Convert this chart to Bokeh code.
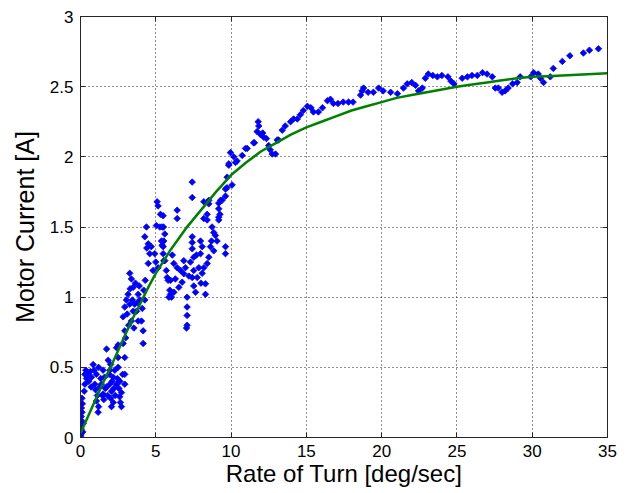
from bokeh.plotting import figure
from bokeh.models import LinearAxis, FixedTicker, CustomJSTickFormatter
from bokeh.embed import file_html
from bokeh.resources import INLINE

# Measured data: rate of turn [deg/sec] vs motor current [A]
rate = [
    0.0, 0.0, 0.05, 0.02, 0.08, 0.05, 0.1, 0.06, 0.12, 0.15, 0.1, 0.18, 0.0, 0.03,
    0.25, 0.29, 0.29, 0.35, 0.4, 0.5, 0.55, 0.65, 0.73, 0.84, 0.9, 0.95, 1.0, 1.06, 1.06,
    1.12, 1.17, 1.2, 1.28, 1.35, 1.39, 1.45, 1.5, 1.55, 1.6, 1.65, 1.73, 1.73, 1.8, 1.84,
    1.9, 1.95, 1.95, 2.0, 2.06, 2.06, 2.1, 2.17, 2.17, 2.22, 2.28, 2.3, 2.39, 2.39, 2.45,
    2.5, 2.5, 2.5, 2.55, 2.6, 2.62, 2.65, 2.72, 2.72, 2.8, 2.94, 2.94, 2.94, 2.0, 1.5,
    0.7, 1.2,
    2.83, 2.83, 2.94, 2.94, 3.0, 3.05, 3.1, 3.16, 3.2, 3.27, 3.27, 3.3, 3.38, 3.38, 3.45,
    3.5, 3.5, 3.6, 3.65, 3.72, 3.8, 3.83, 3.83, 3.9, 3.94, 4.05, 4.1, 4.16, 4.16, 4.2,
    4.27, 4.3, 4.38, 4.27, 4.4, 3.55,
    4.5, 4.5, 4.6, 4.7, 4.82, 4.93, 5.04, 5.09, 5.15, 5.15, 5.27, 5.31, 5.38, 5.42, 5.42,
    5.49, 5.49, 5.49, 5.51, 5.53, 5.53, 5.6, 5.7, 5.76, 5.82, 5.87, 5.93, 5.98, 5.98, 6.04,
    6.2, 6.2, 6.3, 6.42, 6.42, 6.42, 6.53, 6.64, 6.75, 6.86, 6.86, 6.97, 5.0, 5.6, 6.1,
    7.04, 7.08, 7.08, 7.08, 7.08, 7.42, 7.42, 7.42, 7.42, 7.42, 7.42, 7.52, 7.52, 7.52,
    7.64, 7.75, 7.86, 7.97, 7.97, 8.08, 8.08, 8.19, 8.19, 8.19, 8.3, 8.3, 8.41, 8.41, 8.41,
    8.52, 8.52, 8.52, 8.63, 8.74, 8.85, 8.85, 8.96, 9.07, 9.18, 9.18, 9.18, 9.18, 9.26,
    9.3, 9.4, 9.63, 9.63, 9.63, 9.63, 7.3, 7.7, 8.0, 8.7, 7.2,
    9.74, 9.74, 9.85, 9.85, 9.96, 10.07, 10.18, 10.29, 10.4, 10.74, 10.96, 11.07, 11.5,
    11.55, 11.73, 11.8, 11.84, 11.95, 12.1, 12.17, 12.35, 12.5, 12.6, 12.73, 12.95, 13.06,
    13.15,
    13.4, 13.6, 13.95, 14.15, 14.4, 14.6, 14.8, 15.07, 15.3, 15.47, 15.8, 16.07, 16.4,
    16.6, 16.8, 17.1, 17.45, 17.8, 18.1, 18.6, 18.7, 18.8, 19.1, 19.45, 19.8, 20.1, 20.6,
    21.05, 21.45, 21.7, 22.0, 22.25, 22.45, 22.7, 22.9, 23.1, 23.4, 23.7, 24.0, 24.4,
    24.6, 24.8, 25.35, 25.7, 26.0, 26.35, 26.7, 27.0, 27.35, 27.55, 27.75, 28.0, 28.2,
    28.4, 28.7, 29.0, 29.2, 29.9, 30.1, 30.4, 30.55, 30.75, 31.2, 31.4, 32.0, 32.5, 33.4,
    33.8, 34.4,
]
current = [
    0.0, 0.03, 0.06, 0.09, 0.12, 0.15, 0.18, 0.21, 0.24, 0.04, 0.28, 0.1, 0.01, 0.02,
    0.33, 0.38, 0.45, 0.48, 0.42, 0.45, 0.40, 0.47, 0.43, 0.52, 0.48, 0.38, 0.34, 0.45, 0.26,
    0.30, 0.18, 0.22, 0.36, 0.42, 0.38, 0.30, 0.31, 0.27, 0.43, 0.35, 0.36, 0.63, 0.30, 0.55,
    0.45, 0.48, 0.38, 0.28, 0.33, 0.22, 0.40, 0.43, 0.25, 0.35, 0.48, 0.30, 0.38, 0.64, 0.42,
    0.50, 0.57, 0.66, 0.35, 0.29, 0.40, 0.25, 0.22, 0.32, 0.45, 0.38, 0.45, 0.57, 0.52, 0.48,
    0.36, 0.50,
    0.86, 0.67, 0.93, 0.76, 0.71, 0.98, 0.88, 1.02, 0.80, 1.17, 0.95, 1.06, 1.13, 0.83, 0.98,
    1.07, 0.90, 0.95, 1.10, 0.90, 0.96, 0.83, 1.02, 1.08, 0.98, 0.83, 0.92, 0.76, 0.67, 1.05,
    0.98, 1.12, 1.50, 1.43, 1.35, 0.78,
    1.38, 1.24, 1.31, 1.36, 1.19, 1.31, 1.51, 1.68, 1.65, 1.21, 1.50, 1.59, 1.40, 1.37, 1.50,
    1.31, 1.58, 1.36, 1.50, 1.26, 1.40, 1.26, 1.19, 1.14, 1.12, 1.00, 1.05, 1.02, 1.12, 1.00,
    1.24, 1.035, 1.13, 1.21, 1.62, 1.56, 1.07, 1.19, 1.107, 1.167, 1.26, 1.21, 1.25, 1.45, 1.30,
    0.78, 0.80, 0.87, 0.93, 1.00, 1.82, 1.71, 1.43, 1.39, 1.345, 1.14, 1.285, 1.19, 1.08,
    1.035, 1.14, 1.21, 1.40, 1.31, 1.36, 1.17, 1.68, 1.56, 1.21, 1.095, 1.02, 1.59, 1.55, 1.24,
    1.69, 1.665, 1.285, 1.36, 1.50, 1.46, 1.33, 1.44, 1.40, 1.67, 1.63, 1.57, 1.55, 1.59,
    1.69, 1.69, 1.36, 1.31, 1.72, 1.77, 1.25, 1.30, 1.10, 1.40, 1.15,
    1.78, 1.855, 1.94, 1.95, 2.03, 1.80, 2.00, 1.96, 1.97, 2.01, 2.06, 2.06, 2.10,
    2.10, 2.18, 2.25, 2.22, 2.16, 2.17, 2.14, 2.13, 2.08, 2.05, 2.02, 2.02, 2.12,
    2.12,
    2.19, 2.22, 2.25, 2.27, 2.27, 2.30, 2.33, 2.36, 2.35, 2.32, 2.32, 2.35, 2.40,
    2.41, 2.38, 2.38, 2.39, 2.39, 2.39, 2.44, 2.47, 2.49, 2.46, 2.46, 2.49, 2.47, 2.46,
    2.45, 2.49, 2.52, 2.53, 2.51, 2.47, 2.49, 2.56, 2.59, 2.58, 2.57, 2.58, 2.57,
    2.54, 2.52, 2.56, 2.57, 2.58, 2.58, 2.60, 2.59, 2.57, 2.49, 2.49, 2.46, 2.47,
    2.49, 2.52, 2.53, 2.57, 2.57, 2.60, 2.59, 2.56, 2.53, 2.57, 2.63, 2.68, 2.72, 2.74,
    2.76, 2.77,
]

# Fitted curve
fit_rate = [0, 0.5, 1, 1.5, 2, 2.5, 3, 3.5, 4, 4.5, 5, 6, 7, 8, 9, 10, 11, 12, 13, 14, 15,
            16, 17, 18, 19, 20, 21, 22, 23, 24, 25, 26, 27, 28, 29, 30, 31, 32, 33, 34, 35]
fit_current = [0.03, 0.15, 0.27, 0.39, 0.50, 0.62, 0.74, 0.855, 0.96, 1.07, 1.17, 1.34,
               1.49, 1.62, 1.75, 1.87, 1.96, 2.04, 2.10, 2.16, 2.21, 2.25, 2.29, 2.33,
               2.36, 2.39, 2.42, 2.44, 2.46, 2.48, 2.50, 2.515, 2.53, 2.545, 2.56, 2.57,
               2.575, 2.58, 2.585, 2.59, 2.595]

x_ticks = [0, 5, 10, 15, 20, 25, 30, 35]
y_ticks = [0, 0.5, 1, 1.5, 2, 2.5, 3]

FONT = "Liberation Sans"
AX = "#262626"

p = figure(width=629, height=493, x_range=(0, 35), y_range=(0, 3),
           output_backend="svg", toolbar_location=None,
           min_border_left=80, min_border_right=22, min_border_top=16, min_border_bottom=56)
p.background_fill_color = "white"
p.border_fill_color = "white"
p.outline_line_color = AX
p.outline_line_width = 1

p.scatter(rate, current, marker="square", angle=0.785, size=4.6, color="#0000ff",
          line_width=0.8)
p.line(fit_rate, fit_current, line_color="#008000", line_width=2.5)

fmt = CustomJSTickFormatter(code="return tick.toString();")
blank = CustomJSTickFormatter(code="return '';")

for ax, ticks in ((p.xaxis[0], x_ticks), (p.yaxis[0], y_ticks)):
    ax.ticker = FixedTicker(ticks=ticks)
    ax.formatter = fmt
    ax.major_tick_in = 5
    ax.major_tick_out = 0
    ax.minor_tick_line_color = None
    ax.axis_line_color = AX
    ax.major_tick_line_color = AX
    ax.major_label_text_font = FONT
    ax.major_label_text_font_size = "17px"
    ax.major_label_text_color = "black"
    ax.axis_label_text_font = FONT
    ax.axis_label_text_font_style = "normal"
    ax.axis_label_text_color = "black"

p.xaxis.axis_label = "Rate of Turn [deg/sec]"
p.yaxis.axis_label = "Motor Current [A]"
p.xaxis.axis_label_text_font_size = "24px"
p.yaxis.axis_label_text_font_size = "25px"
p.xaxis.major_label_standoff = 7
p.yaxis.major_label_standoff = 7
p.xaxis.axis_label_standoff = 0
p.yaxis.axis_label_standoff = 8

for loc, ticks in (("right", y_ticks), ("above", x_ticks)):
    ax = LinearAxis(ticker=FixedTicker(ticks=ticks), formatter=blank)
    ax.major_tick_in = 5
    ax.major_tick_out = 0
    ax.minor_tick_line_color = None
    ax.axis_line_color = AX
    ax.major_tick_line_color = AX
    ax.major_label_text_font_size = "1px"
    ax.major_label_standoff = 0
    p.add_layout(ax, loc)

for g, ticks in ((p.xgrid[0], x_ticks), (p.ygrid[0], y_ticks)):
    g.ticker = FixedTicker(ticks=ticks)
    g.grid_line_color = "#222222"
    g.grid_line_dash = "1 3"
    g.grid_line_width = 1

open("out.html", "w").write(file_html(p, INLINE))
